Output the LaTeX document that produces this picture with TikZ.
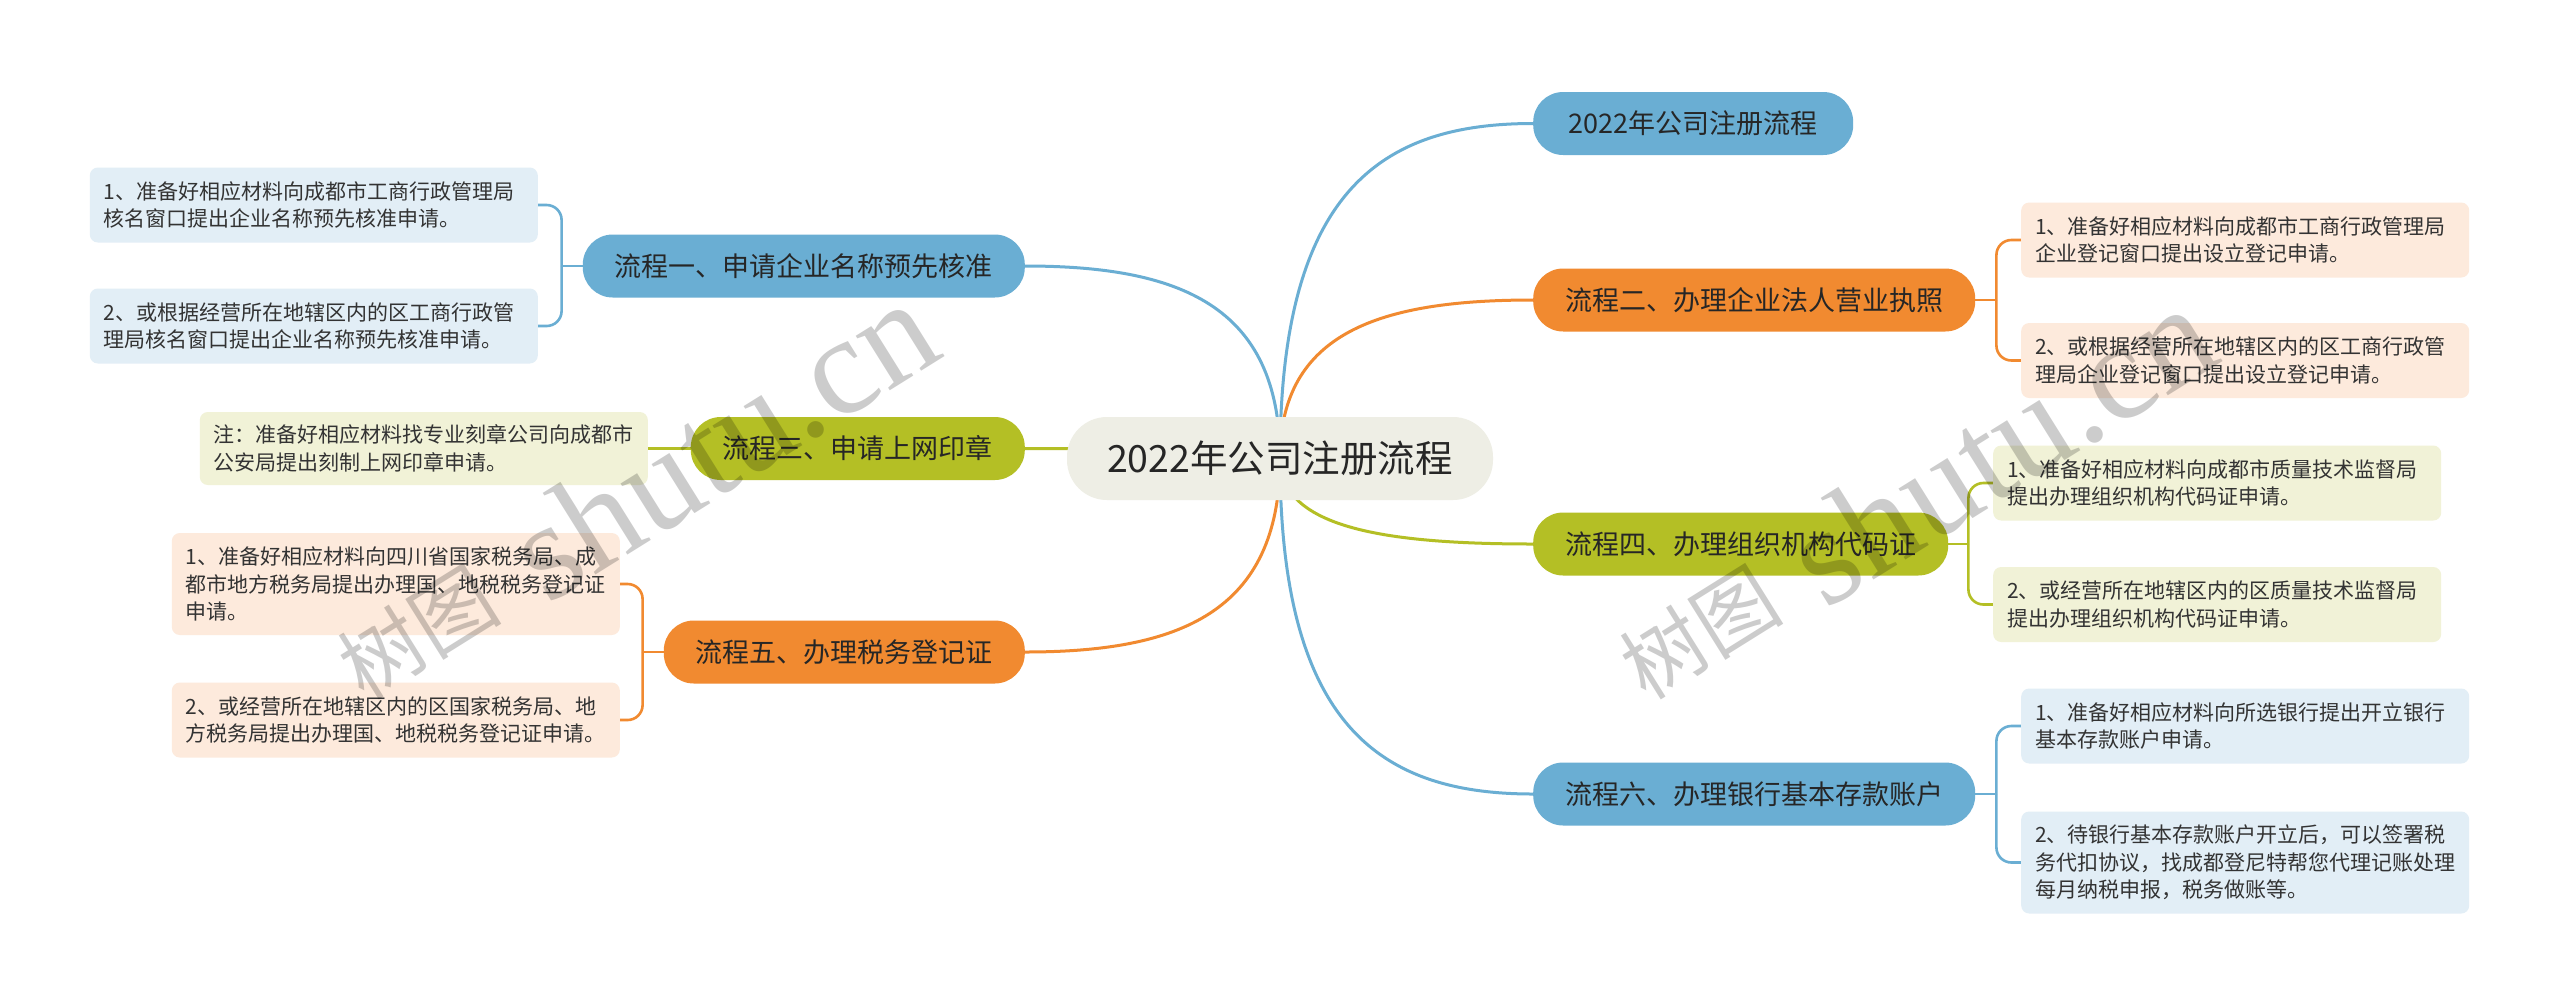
\documentclass[tikz,border=0pt]{standalone}
\usepackage{fontspec}
\setmainfont{Noto Sans CJK SC}
\newfontfamily\wmserif{Liberation Serif}
\usetikzlibrary{calc,backgrounds}
\definecolor{cB}{HTML}{6AAED3}
\definecolor{cO}{HTML}{F18A30}
\definecolor{cG}{HTML}{B4BF25}
\definecolor{cRoot}{HTML}{EEEEE5}
\definecolor{cBL}{HTML}{E2EEF6}
\definecolor{cOL}{HTML}{FDEADC}
\definecolor{cGL}{HTML}{F1F2D7}
\definecolor{cTxt}{HTML}{333333}
\definecolor{cDark}{HTML}{262626}
\newcommand\mmlink[3]{\draw[#1] (#2.center) .. controls ($(#2.center)!0.8!(#2.center|-#3)$) and ($(#2.center|-#3)!0.4!(#3)$) .. (#3);}
\tikzset{
  root/.style={fill=cRoot, rounded corners=40pt, minimum width=426pt, minimum height=83pt, inner sep=0pt, font=\fontsize{37.5}{37.5}\selectfont, text=cDark},
  mainnode/.style={rounded corners=30pt, minimum height=63pt, inner xsep=32pt, inner ysep=0pt, font=\fontsize{27}{27}\selectfont, text=cDark},
  mB/.style={mainnode, fill=cB},
  mO/.style={mainnode, fill=cO},
  mG/.style={mainnode, fill=cG},
  leaf/.style={rounded corners=8pt, text width=420pt, inner xsep=14pt, inner ysep=8pt, minimum height=75pt, align=left, font=\fontsize{21}{27.5}\selectfont, text=cTxt},
  lB/.style={leaf, fill=cBL},
  lO/.style={leaf, fill=cOL},
  lG/.style={leaf, fill=cGL},
  tall/.style={minimum height=102pt},
  linkB/.style={draw=cB, line width=3pt},
  linkO/.style={draw=cO, line width=3pt},
  linkG/.style={draw=cG, line width=3pt},
  brB/.style={draw=cB, line width=2.6pt},
  brO/.style={draw=cO, line width=2.6pt},
  brG/.style={draw=cG, line width=2.6pt},
  wm/.style={text=black, text opacity=0.2, inner sep=0pt},
}
\begin{document}
\begin{tikzpicture}[x=1pt,y=-1pt]
\useasboundingbox (0,0) rectangle (2560,1005);
% root
\node[root] (c) at (1280,458.5) {2022年公司注册流程};
% right main nodes
\node[mB, anchor=west, minimum width=320pt] (t0) at (1533,123.5) {2022年公司注册流程};
\node[mO, anchor=west] (n2) at (1533,300) {流程二、办理企业法人营业执照};
\node[mG, anchor=west] (n4) at (1533,544) {流程四、办理组织机构代码证};
\node[mB, anchor=west] (n6) at (1533,794) {流程六、办理银行基本存款账户};
% left main nodes
\node[mB, anchor=east] (n1) at (1025,266) {流程一、申请企业名称预先核准};
\node[mG, anchor=east] (n3) at (1025,448.5) {流程三、申请上网印章};
\node[mO, anchor=east] (n5) at (1025,652) {流程五、办理税务登记证};
% left leaves
\node[lB, anchor=east] (L1a) at (538,205) {1、准备好相应材料向成都市工商行政管理局\\核名窗口提出企业名称预先核准申请。};
\node[lB, anchor=east] (L1b) at (538,326) {2、或根据经营所在地辖区内的区工商行政管\\理局核名窗口提出企业名称预先核准申请。};
\node[lG, anchor=east, minimum height=73pt] (L3) at (648,448.5) {注：准备好相应材料找专业刻章公司向成都市\\公安局提出刻制上网印章申请。};
\node[lO, tall, anchor=east] (L5a) at (620,584) {1、准备好相应材料向四川省国家税务局、成\\都市地方税务局提出办理国、地税税务登记证\\申请。};
\node[lO, anchor=east] (L5b) at (620,720) {2、或经营所在地辖区内的区国家税务局、地\\方税务局提出办理国、地税税务登记证申请。};
% right leaves
\node[lO, anchor=west] (R2a) at (2021,240) {1、准备好相应材料向成都市工商行政管理局\\企业登记窗口提出设立登记申请。};
\node[lO, anchor=west] (R2b) at (2021,360.5) {2、或根据经营所在地辖区内的区工商行政管\\理局企业登记窗口提出设立登记申请。};
\node[lG, anchor=west] (R4a) at (1993,483) {1、准备好相应材料向成都市质量技术监督局\\提出办理组织机构代码证申请。};
\node[lG, anchor=west] (R4b) at (1993,604.5) {2、或经营所在地辖区内的区质量技术监督局\\提出办理组织机构代码证申请。};
\node[lB, anchor=west] (R6a) at (2021,726) {1、准备好相应材料向所选银行提出开立银行\\基本存款账户申请。};
\node[lB, tall, anchor=west] (R6b) at (2021,862.5) {2、待银行基本存款账户开立后，可以签署税\\务代扣协议，找成都登尼特帮您代理记账处理\\每月纳税申报，税务做账等。};
% bracket points
\coordinate (b1) at ($(n1.west)+(-21pt,0)$);
\coordinate (b5) at ($(n5.west)+(-21pt,0)$);
\coordinate (b2) at ($(n2.east)+(21pt,0)$);
\coordinate (b4) at ($(n4.east)+(20pt,0)$);
\coordinate (b6) at ($(n6.east)+(21pt,0)$);
\begin{scope}[on background layer]
\fill[white] (0,0) rectangle (2560,1005);
\mmlink{linkB}{c}{t0.west}
\mmlink{linkO}{c}{n2.west}
\mmlink{linkG}{c}{n4.west}
\mmlink{linkB}{c}{n6.west}
\mmlink{linkB}{c}{n1.east}
\mmlink{linkG}{c}{n3.east}
\mmlink{linkO}{c}{n5.east}
% brackets
\draw[brB, rounded corners=15pt] (L1a.east) -| (b1);
\draw[brB, rounded corners=15pt] (L1b.east) -| (b1);
\draw[brB] (b1) -- (n1.west);
\draw[brG] (L3.east) -- (n3.west);
\draw[brO, rounded corners=15pt] (L5a.east) -| (b5);
\draw[brO, rounded corners=15pt] (L5b.east) -| (b5);
\draw[brO] (b5) -- (n5.west);
\draw[brO, rounded corners=15pt] (R2a.west) -| (b2);
\draw[brO, rounded corners=15pt] (R2b.west) -| (b2);
\draw[brO] (b2) -- (n2.east);
\draw[brG, rounded corners=15pt] (R4a.west) -| (b4);
\draw[brG, rounded corners=15pt] (R4b.west) -| (b4);
\draw[brG] (b4) -- (n4.east);
\draw[brB, rounded corners=15pt] (R6a.west) -| (b6);
\draw[brB, rounded corners=15pt] (R6b.west) -| (b6);
\draw[brB] (b6) -- (n6.east);
\end{scope}
% watermarks
\node[wm, rotate=32, font=\fontsize{82}{82}\selectfont] (w1a) at (418,632) {树图};
\node[wm, rotate=32, font=\wmserif\fontsize{140}{140}\selectfont] (w1b) at (722,440) {shutu.cn};
\node[wm, rotate=32, font=\fontsize{82}{82}\selectfont] (w2a) at (1700,632) {树图};
\node[wm, rotate=32, font=\wmserif\fontsize{140}{140}\selectfont] (w2b) at (2000,445) {shutu.cn};
\end{tikzpicture}
\end{document}
